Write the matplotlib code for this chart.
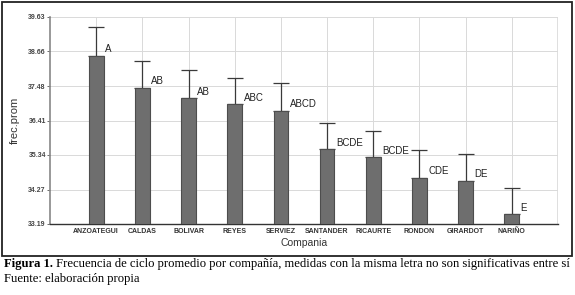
import matplotlib.pyplot as plt
from matplotlib.patches import Rectangle
import numpy as np

companias = ["ANZOATEGUI", "CALDAS", "BOLIVAR", "REYES", "SERVIEZ",
             "SANTANDER", "RICAURTE", "RONDON", "GIRARDOT", "NARIÑO"]
frec_prom = [38.42, 37.42, 37.10, 36.91, 36.72, 35.51, 35.26, 34.63, 34.54, 33.49]
error_sup = [0.89, 0.83, 0.87, 0.83, 0.87, 0.81, 0.82, 0.86, 0.82, 0.81]
letras = ["A", "AB", "AB", "ABC", "ABCD", "BCDE", "BCDE", "CDE", "DE", "E"]
yticks = [33.19, 34.263, 35.337, 36.41, 37.483, 38.557, 39.63]
ytick_labels = ["33.19", "34.27", "35.34", "36.41", "37.48", "38.66", "39.63"]
base = 33.19

plt.rcParams["font.family"] = ["Liberation Sans", "DejaVu Sans"]

fig = plt.figure(figsize=(5.75, 2.95), dpi=100)
ax = fig.add_axes([50 / 575, 1 - 224 / 295, 508 / 575, 207 / 295])

x = np.arange(len(companias))
ax.bar(x, np.array(frec_prom) - base, bottom=base, width=0.32,
       color="#6e6e6e", edgecolor="#4d4d4d", linewidth=0.8, zorder=3)
ax.errorbar(x, frec_prom, yerr=[np.zeros(len(x)), error_sup], fmt="none",
            ecolor="#3a3a3a", elinewidth=0.9, capsize=5.5, capthick=0.9, zorder=2)
for xi, yi, txt in zip(x, frec_prom, letras):
    ax.text(xi + 0.19, yi + 0.05, txt, fontsize=7, color="#222222",
            ha="left", va="bottom", zorder=4)

ax.set_xlim(-1, 10)
ax.set_ylim(yticks[0], yticks[-1])
ax.set_xticks(x)
ax.set_xticklabels(companias, fontsize=5, fontweight="bold", color="#333333")
ax.set_yticks(yticks)
ax.set_yticklabels(ytick_labels, fontsize=5, fontweight="bold", color="#444444")
ax.tick_params(axis="x", length=0, pad=3)
ax.tick_params(axis="y", length=2, width=0.6, pad=1, color="#555555")

ax.grid(True, color="#d9d9d9", linewidth=0.7, zorder=0)
ax.axvline(10, color="#d9d9d9", linewidth=1.2, zorder=0)
ax.set_axisbelow(True)
for side in ["top", "right"]:
    ax.spines[side].set_visible(False)
ax.spines["left"].set_color("#888888")
ax.spines["bottom"].set_color("#333333")
ax.spines["left"].set_linewidth(1.2)
ax.spines["bottom"].set_linewidth(1.0)

ax.set_ylabel("frec.prom", fontsize=8, color="#333333", labelpad=6)
ax.set_xlabel("Compania", fontsize=7.5, color="#333333", labelpad=2)

# marco exterior
fig.patches.append(Rectangle((2 / 575, 1 - 256 / 295), 570 / 575, 254 / 295,
                             transform=fig.transFigure, fill=False,
                             edgecolor="#222222", linewidth=1.3))

# pie de figura
serif = ["Liberation Serif", "DejaVu Serif"]
t_bold = fig.text(4 / 575, 1 - 270 / 295, "Figura 1.", fontsize=9.1,
                  family=serif, fontweight="bold", va="bottom")
fig.add_artist(plt.Annotation(
    " Frecuencia de ciclo promedio por compañía, medidas con la misma letra "
    "no son significativas entre sí",
    xy=(1, 0), xycoords=t_bold, va="bottom", ha="left",
    fontsize=9.1, family=serif, annotation_clip=False))
fig.text(4 / 575, 1 - 285 / 295, "Fuente: elaboración propia", fontsize=9.1,
         family=serif, va="bottom")

fig.savefig("out.png", dpi=100)
